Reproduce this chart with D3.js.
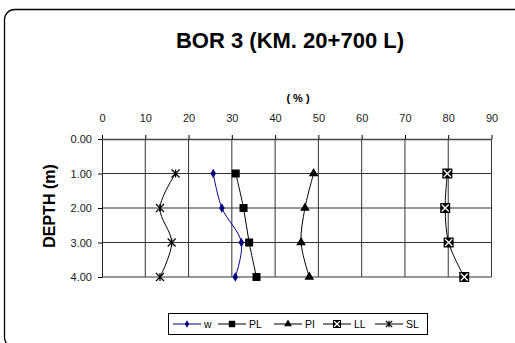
<!DOCTYPE html>
<html>
<head>
<meta charset="utf-8">
<script src="https://cdn.jsdelivr.net/npm/d3@7"></script>
<style>
  body { margin: 0; background: #fff; }
  text { font-family: Arial, "Liberation Sans", sans-serif; fill: #000; }
</style>
</head>
<body>
<svg id="chart"></svg>
<script>
const depths = [1, 2, 3, 4];
const wVals = [25.7, 27.7, 32.2, 30.8];
const plVals = [30.9, 32.7, 34.0, 35.7];
const piVals = [48.9, 46.9, 46.0, 47.9];
const llVals = [79.8, 79.3, 80.1, 83.7];
const slVals = [17.0, 13.4, 16.1, 13.4];
const xTicks = [0, 10, 20, 30, 40, 50, 60, 70, 80, 90];
const yTicks = [0, 1, 2, 3, 4];
const seriesNames = ["w", "PL", "PI", "LL", "SL"];

const width = 515, height = 343;
const svg = d3.select('#chart')
    .attr("width", width)
    .attr("height", height);

// outer frame, runs off the right and bottom edge
svg.append("rect")
    .attr("x", 4.5).attr("y", 9.5)
    .attr("width", 530).attr("height", 338)
    .attr("rx", 10)
    .attr("fill", "none")
    .attr("stroke", "#000")
    .attr("stroke-width", 1.3);

svg.append("text")
    .attr("x", 290).attr("y", 47.5)
    .attr("text-anchor", "middle")
    .style("font-size", "22px")
    .style("font-weight", "bold")
    .text("BOR 3 (KM. 20+700 L)");

const x = d3.scaleLinear().domain([0, 90]).range([102, 491.5]);
const y = d3.scaleLinear().domain([0, 4]).range([139, 277]);

// grid
const grid = svg.append("g").attr("stroke", "#333").attr("stroke-width", 1);
grid.selectAll(".vg")
    .data(xTicks.slice(1))
    .enter().append("line")
    .attr("x1", d => x(d)).attr("x2", d => x(d))
    .attr("y1", y(0)).attr("y2", y(4));
grid.selectAll(".hg")
    .data(yTicks.slice(1))
    .enter().append("line")
    .attr("x1", x(0)).attr("x2", x(90))
    .attr("y1", d => y(d)).attr("y2", d => y(d));

// top axis
const xAxis = d3.axisTop(x)
    .tickValues(xTicks)
    .tickSize(4)
    .tickSizeOuter(0)
    .tickFormat(d3.format("d"));
svg.append("g")
    .attr("transform", "translate(0," + y(0) + ")")
    .call(xAxis)
    .call(g => g.selectAll("text").style("font-size", "11px").attr("y", -17).attr("dy", 0).style("fill", "#1a1a1a"))
    .call(g => g.select(".domain").attr("stroke", "#444").attr("stroke-width", 1.5));

const yAxis = d3.axisLeft(y)
    .tickValues(yTicks)
    .tickSize(4)
    .tickSizeOuter(0)
    .tickFormat(d3.format(".2f"));
svg.append("g")
    .attr("transform", "translate(" + x(0) + ",0)")
    .call(yAxis)
    .call(g => g.selectAll("text").style("font-size", "11px").attr("x", -10).style("fill", "#1a1a1a"))
    .call(g => g.select(".domain").attr("stroke", "#222"));

svg.append("text")
    .attr("x", 298).attr("y", 102)
    .attr("text-anchor", "middle")
    .style("font-size", "11px")
    .style("font-weight", "bold")
    .text("( % )");

svg.append("text")
    .attr("transform", "translate(55,206) rotate(-90)")
    .attr("text-anchor", "middle")
    .style("font-size", "16px")
    .style("font-weight", "bold")
    .text("DEPTH (m)");

const series = [
    { name: seriesNames[0], vals: wVals, color: "#000080", mark: "diamond" },
    { name: seriesNames[1], vals: plVals, color: "#000", mark: "square" },
    { name: seriesNames[2], vals: piVals, color: "#000", mark: "triangle" },
    { name: seriesNames[3], vals: llVals, color: "#000", mark: "boxx" },
    { name: seriesNames[4], vals: slVals, color: "#000", mark: "star" }
];

const line = d3.line()
    .x(d => x(d[0]))
    .y(d => y(d[1]))
    .curve(d3.curveCatmullRom.alpha(0.5));

function drawMark(g, kind, color, k) {
    if (kind == "diamond") {
        g.append("path").attr("d", d3.symbol(d3.symbolDiamond, 26 * k * k)()).attr("fill", color);
    } else if (kind == "square") {
        g.append("rect").attr("x", -4 * k).attr("y", -4 * k).attr("width", 8 * k).attr("height", 8 * k).attr("fill", color);
    } else if (kind == "triangle") {
        g.append("path").attr("d", d3.symbol(d3.symbolTriangle, 40 * k * k)()).attr("fill", color);
    } else if (kind == "boxx") {
        const h = 5 * k, c = 3.5 * k;
        g.append("rect").attr("x", -h).attr("y", -h).attr("width", 2 * h).attr("height", 2 * h).attr("fill", "#000");
        g.append("path").attr("d", `M${-c},${-c}L${c},${c}M${-c},${c}L${c},${-c}`)
            .attr("stroke", "#fff").attr("stroke-width", 1.3);
    } else if (kind == "star") {
        const c = 4 * k;
        g.append("path").attr("d", `M${-c},${-c}L${c},${c}M${-c},${c}L${c},${-c}M0,${-c}L0,${c}`)
            .attr("stroke", color).attr("stroke-width", 1.2);
    }
}

series.forEach(s => {
    const pts = s.vals.map((v, i) => [v, depths[i]]);
    svg.append("path")
        .datum(pts)
        .attr("d", line)
        .attr("fill", "none")
        .attr("stroke", s.color)
        .attr("stroke-width", 1);
    pts.forEach(p => {
        const g = svg.append("g").attr("transform", "translate(" + x(p[0]) + "," + y(p[1]) + ")");
        drawMark(g, s.mark, s.color, 1);
    });
});

// legend
const legend = svg.append("g");
legend.append("rect")
    .attr("x", 168.5).attr("y", 313.5)
    .attr("width", 259).attr("height", 21)
    .attr("fill", "#fff")
    .attr("stroke", "#000");

const legX = [173, 218, 274, 323, 375];
series.forEach((s, i) => {
    const g = legend.append("g").attr("transform", "translate(" + legX[i] + ",324)");
    g.append("line").attr("x1", 0).attr("x2", 28).attr("stroke", s.color).attr("stroke-width", 1);
    const m = g.append("g").attr("transform", "translate(14,0)");
    drawMark(m, s.mark, s.color, 0.8);
    g.append("text")
        .attr("x", 31).attr("y", 3.8)
        .style("font-size", "10.5px")
        .text(s.name);
});
</script>
</body>
</html>
